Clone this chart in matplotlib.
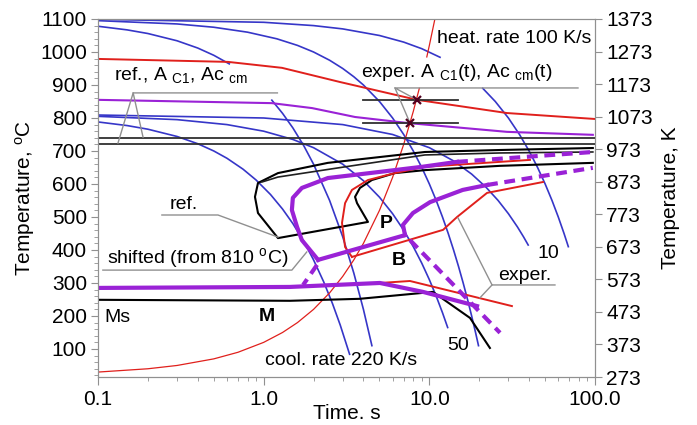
import numpy as np
import matplotlib
matplotlib.use('Agg')
import matplotlib.pyplot as plt
from matplotlib.ticker import MultipleLocator, LogLocator, NullFormatter

plt.rcParams['font.family'] = ['Liberation Sans', 'DejaVu Sans']
plt.rcParams['mathtext.fontset'] = 'custom'
plt.rcParams['mathtext.rm'] = 'Liberation Sans'
plt.rcParams['mathtext.it'] = 'Liberation Sans:italic'
plt.rcParams['mathtext.bf'] = 'Liberation Sans:bold'

nan = np.nan

# curvas de enfriamiento (azul): tiempo [s], temperatura [C]
enf_1100_220_t = [0.1, 0.15, 0.2, 0.3, 0.4, 0.5, 0.62, nan, 1.12, 1.3, 1.5, 1.75, 2.0, 2.5, 3.0, 3.5, 4.0, 4.5]
enf_1100_220_T = [1078, 1067, 1056, 1034, 1012, 990, 964, nan, 854, 814, 770, 715, 660, 550, 440, 330, 220, 110]
enf_1100_50_t = [0.1, 0.3, 0.5, 0.8, 1.2, 1.6, 2.0, 2.5, 3.0, 3.5, 4.0, 5.0, 6.0, 7.0, 8.0, 9.0, 10, 11, 12, 13, 14, 15, 16, 17, 18, 19, 19.8]
enf_1100_50_T = [1095, 1085, 1075, 1060, 1040, 1020, 1000, 975, 950, 925, 900, 850, 800, 750, 700, 650, 600, 550, 500, 450, 400, 350, 300, 250, 200, 150, 110]
enf_1100_10_t = [0.1, 1, 2, 3, 5, 7, 9, 11.6, nan, 21, 25, 30, 35, 40, 45, 50, 55, 60, 65, 69]
enf_1100_10_T = [1099, 1090, 1080, 1070, 1050, 1030, 1010, 984, nan, 890, 850, 800, 750, 700, 650, 600, 550, 500, 450, 410]
enf_810_220_t = [0.1, 0.15, 0.2, 0.3, 0.4, 0.5, 0.6, 0.75, 0.9, 1.1, 1.3, 1.5, 1.75, 2.0, 2.3, 2.6, 2.9, 3.3]
enf_810_220_T = [788, 777, 766, 744, 722, 700, 678, 645, 612, 568, 524, 480, 425, 370, 304, 238, 172, 84]
enf_810_50_t = [0.1, 0.3, 0.6, 1.0, 1.5, 2, 3, 4, 5, 6, 7, 8, 9, 10, 11, 12, 12.9]
enf_810_50_T = [805, 795, 780, 760, 735, 710, 660, 610, 560, 510, 460, 410, 360, 310, 260, 210, 165]
enf_810_10_t = [0.1, 1, 3, 6, 10, 14, 18, 22, 26, 30, 34, 37, 39.5]
enf_810_10_T = [809, 800, 780, 750, 710, 670, 630, 590, 550, 510, 470, 440, 415]

# calentamiento 100 K/s
cal_t = [0.1, 0.2, 0.3, 0.5, 0.7, 1.0, 1.3, 1.6, 2, 2.5, 3, 3.5, 4, 5, 6, 7, 8, 8.7, nan, 9.65, 10, 10.8]
cal_T = [30, 40, 50, 70, 90, 120, 150, 180, 220, 270, 320, 370, 420, 520, 620, 720, 820, 890, nan, 985, 1020, 1100]

# Ac experimentales
accm_t = [0.1, 0.61, 1.29, 2.89, 8.42, 29.4, 100]
accm_T = [979, 970, 952, 909, 855, 815, 797]
ac1_t = [0.1, 1.12, 1.96, 3.56, 7.32, 29.4, 97]
ac1_T = [855, 845, 830, 803, 785, 758, 749]
ac_ref = [740, 722]
marca_t = [8.42, 7.64]
marca_T = [855, 785]
barra_t = [3.97, 14.9]

# diagrama de referencia (negro)
ref_ini_t = [97, 26.7, 9.41, 2.44, 1.22, 0.924, 0.886, 0.924, 1.22, 4.26, 3.66, 3.56, 3.81, 4.5, 6.2, 9.41, 26.7, 97]
ref_ini_T = [709, 703, 697, 664, 633, 603, 561, 512, 436, 485, 542, 561, 588, 612, 633, 642, 655, 664]
ref_b_t = [0.976, 1.22, 3.10, 9.41, 26.7, 97]
ref_b_T = [606, 621, 652, 688, 694, 697]
ms_t = [0.1, 1.44, 3.8, 9.15, 10.5, 17.6, 23.2]
ms_T = [249, 246, 252, 270, 273, 194, 103]

# desplazado (morado)
pur_ini_t = [2.13, 1.70, 1.59, 1.48, 1.50, 1.70, 2.44, 4.90, 9.02, 14.7]
pur_ini_T = [370, 430, 470, 521, 558, 588, 618, 636, 652, 667]
pur_ini_d_t = [14.7, 97]
pur_ini_d_T = [667, 697]
pur_b_t = [2.13, 7.13]
pur_b_T = [370, 445]
pur_p_t = [7.13, 6.93, 7.96, 10.1, 15.9, 22.3]
pur_p_T = [445, 476, 512, 545, 582, 597]
pur_p_d_t = [22.3, 97]
pur_p_d_T = [597, 649]
pur_bf_t = [7.64, 26.7]
pur_bf_T = [430, 149]
pur_c_t = [2.10, 1.73]
pur_c_T = [355, 294]
pur_m_t = [0.1, 1.44, 5.03, 9.15, 19.4]
pur_m_T = [285, 288, 300, 273, 230]

# experimental (rojo)
exp_p_t = [40.5, 9.41, 6.2, 4.26, 3.41, 3.10, 2.97, 3.10, 3.41]
exp_p_T = [673, 652, 633, 612, 582, 542, 482, 409, 379]
exp_b_t = [3.41, 12.1, 14.7, 22.3, 48.5]
exp_b_T = [379, 461, 500, 573, 606]
exp_m_t = [1.7, 5.03, 7.64, 31.5]
exp_m_T = [290, 300, 306, 230]

azul = '#3636c8'
rojo = '#e0201c'
morado = '#9a22d6'
gris = '#909090'

fig = plt.figure(figsize=(6.97, 4.25), dpi=100)
ax = fig.add_axes([0.1406, 0.1129, 0.7131, 0.8424])

for t, T in [(enf_1100_220_t, enf_1100_220_T), (enf_1100_50_t, enf_1100_50_T),
             (enf_1100_10_t, enf_1100_10_T), (enf_810_220_t, enf_810_220_T),
             (enf_810_50_t, enf_810_50_T), (enf_810_10_t, enf_810_10_T)]:
    ax.plot(t, T, color=azul, lw=1.2, zorder=2)

ax.plot(cal_t, cal_T, color=rojo, lw=0.9, zorder=2)
ax.plot(accm_t, accm_T, color=rojo, lw=1.4, zorder=3)
ax.plot(ac1_t, ac1_T, color=morado, lw=1.5, zorder=3)
for T in ac_ref:
    ax.axhline(T, color='#303030', lw=1.3, zorder=3)
for T in marca_T:
    ax.plot(barra_t, [T, T], color='#303030', lw=1.3, zorder=3)
ax.plot(marca_t, marca_T, 'x', color='#500020', ms=6, mew=1.6, zorder=5)

ax.plot(ref_ini_t, ref_ini_T, color='black', lw=1.5, zorder=3)
ax.plot(ref_b_t, ref_b_T, color='#202020', lw=1.2, zorder=3)
ax.plot(ms_t, ms_T, color='black', lw=1.5, zorder=3)

ax.plot(exp_p_t, exp_p_T, color=rojo, lw=1.4, zorder=3)
ax.plot(exp_b_t, exp_b_T, color=rojo, lw=1.4, zorder=3)
ax.plot(exp_m_t, exp_m_T, color=rojo, lw=1.4, zorder=3)

for t, T in [(pur_ini_t, pur_ini_T), (pur_b_t, pur_b_T), (pur_p_t, pur_p_T), (pur_m_t, pur_m_T)]:
    ax.plot(t, T, color=morado, lw=3, zorder=4, solid_joinstyle='round')
for t, T in [(pur_ini_d_t, pur_ini_d_T), (pur_p_d_t, pur_p_d_T), (pur_bf_t, pur_bf_T), (pur_c_t, pur_c_T)]:
    ax.plot(t, T, color=morado, lw=3, zorder=4, dashes=(2.6, 1.6))

# lineas de indicacion
ax.plot([1.21, 0.163, 0.132], [876, 876, 724], color=gris, lw=1, zorder=4)
ax.plot([0.163, 0.187], [876, 742], color=gris, lw=1, zorder=4)
ax.plot([78.9, 6.2, 8.42], [891, 891, 855], color=gris, lw=1, zorder=4)
ax.plot([6.2, 7.64], [891, 785], color=gris, lw=1, zorder=4)
ax.plot([0.243, 0.53, 1.22], [506, 506, 439], color=gris, lw=1, zorder=4)
ax.plot([0.107, 1.48, 1.82], [339, 339, 394], color=gris, lw=1, zorder=4)
ax.plot([57.3, 23.9, 14.9], [294, 294, 497], color=gris, lw=1, zorder=4)
ax.plot([23.9, 20.2], [294, 255], color=gris, lw=1, zorder=4)

fs = 14
ax.text(11.1, 1027, 'heat. rate 100 K/s', fontsize=fs)
ax.text(3.87, 924, r'exper. A $_{\mathrm{C1}}$(t), Ac $_{\mathrm{cm}}$(t)', fontsize=fs)
ax.text(0.125, 915, r'ref., A $_{\mathrm{C1}}$, Ac $_{\mathrm{cm}}$', fontsize=fs)
ax.text(0.272, 524, 'ref.', fontsize=fs)
ax.text(0.113, 361, r'shifted (from 810 $^{\mathrm{o}}$C)', fontsize=fs)
ax.text(5.47, 467, 'P', fontsize=fs, fontweight='bold', ha='center')
ax.text(6.56, 355, 'B', fontsize=fs, fontweight='bold', ha='center')
ax.text(1.05, 185, 'M', fontsize=fs, fontweight='bold', ha='center')
ax.text(0.109, 182, 'Ms', fontsize=fs)
ax.text(45.2, 376, '10', fontsize=fs)
ax.text(12.9, 97, '50', fontsize=fs)
ax.text(1.02, 52, 'cool. rate 220 K/s', fontsize=fs)
ax.text(25.9, 309, 'exper.', fontsize=fs)

ax.set_xscale('log')
ax.set_xlim(0.1, 100)
ax.set_ylim(15, 1100)
ax.set_xticks([0.1, 1, 10, 100])
ax.set_xticklabels(['0.1', '1.0', '10.0', '100.0'])
ax.xaxis.set_minor_locator(LogLocator(base=10, subs=np.arange(2, 10)))
ax.xaxis.set_minor_formatter(NullFormatter())
ax.set_yticks(np.arange(100, 1101, 100))
ax.yaxis.set_minor_locator(MultipleLocator(20))
ax.set_xlabel('Time. s', fontsize=15, labelpad=-3)
ax.set_ylabel(r'Temperature, $^{\mathrm{o}}$C', fontsize=15, labelpad=2)

ax2 = ax.twinx()
ax2.set_ylim(273, 1373)
ax2.set_yticks(np.arange(273, 1374, 100))
ax2.set_ylabel('Temperature, K', fontsize=15, labelpad=6)

for a in (ax, ax2):
    for s in a.spines.values():
        s.set_color(gris)
    a.tick_params(which='major', direction='out', length=5, color=gris, labelsize=15, pad=3)
    a.tick_params(which='minor', direction='out', length=3, color=gris)
ax.tick_params(axis='x', which='major', length=6, pad=3)

fig.savefig('out.png', dpi=100)
